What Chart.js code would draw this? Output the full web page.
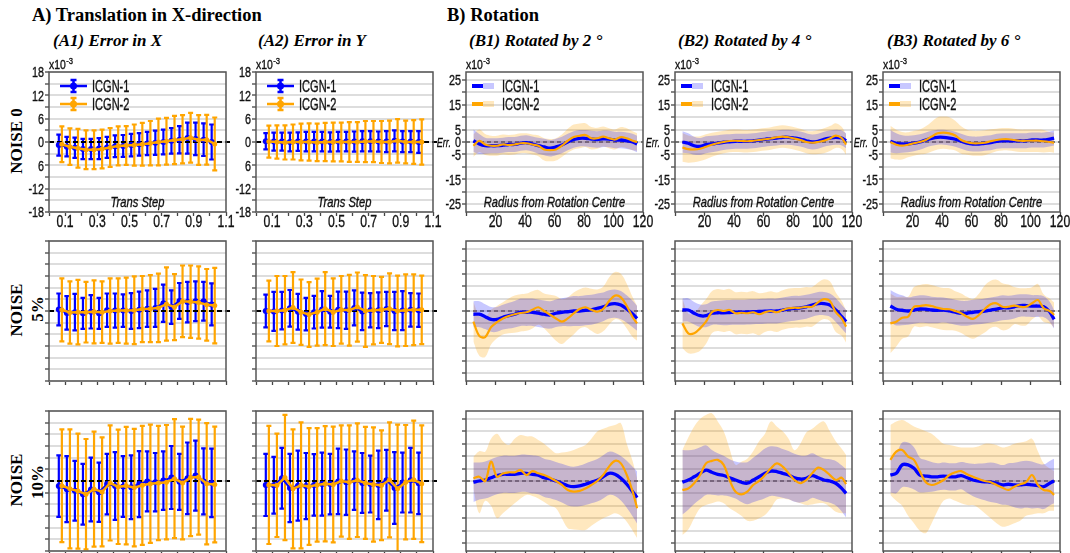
<!DOCTYPE html>
<html>
<head>
<meta charset="utf-8">
<script src="https://cdn.jsdelivr.net/npm/chart.js@4.4.1/dist/chart.umd.min.js"></script>
<style>
  html, body { margin: 0; padding: 0; background: #fff; overflow: hidden; }
  #page { position: relative; width: 1070px; height: 553px; }
  #page canvas { position: absolute; }
  #page svg { position: absolute; left: 0; top: 0; }
  .ttl { font-family: 'Liberation Serif', 'Times New Roman', serif; font-weight: bold; fill: #000; }
</style>
</head>
<body>
<div id="page">
  <svg width="1070" height="553">
    <text class="ttl" x="32" y="21" font-size="18.5">A) Translation in X-direction</text>
    <text class="ttl" x="447" y="21" font-size="18.5">B) Rotation</text>
    <text class="ttl" x="53" y="46" font-size="17" font-style="italic">(A1) Error in X</text>
    <text class="ttl" x="258" y="46" font-size="17" font-style="italic">(A2) Error in Y</text>
    <text class="ttl" x="469" y="46" font-size="17" font-style="italic">(B1) Rotated by 2 °</text>
    <text class="ttl" x="678" y="46" font-size="17" font-style="italic">(B2) Rotated by 4 °</text>
    <text class="ttl" x="887" y="46" font-size="17" font-style="italic">(B3) Rotated by 6 °</text>
    <text class="ttl" font-size="17" text-anchor="middle" transform="translate(22,141) rotate(-90)">NOISE 0</text>
    <text class="ttl" font-size="17" text-anchor="middle" transform="translate(22,310) rotate(-90)">NOISE</text>
    <text class="ttl" font-size="17" text-anchor="middle" transform="translate(43,309) rotate(-90)">5%</text>
    <text class="ttl" font-size="17" text-anchor="middle" transform="translate(22,480) rotate(-90)">NOISE</text>
    <text class="ttl" font-size="17" text-anchor="middle" transform="translate(43,482) rotate(-90)">10%</text>
  </svg>
</div>
<script>
// ---- data ----
const seriesNames = ['ICGN-1', 'ICGN-2'];

// translation panels
const transStep = [0.05,0.10,0.15,0.20,0.25,0.30,0.35,0.40,0.45,0.50,0.55,0.60,0.65,0.70,0.75,0.80,0.85,0.90,0.95,1.00];
const aXTicks = [0,0.1,0.2,0.3,0.4,0.5,0.6,0.7,0.8,0.9,1.0,1.1];
const aXTickLabels = ['','0.1','','0.3','','0.5','','0.7','','0.9','','1.1'];
const aYTicks = [-18,-15,-12,-9,-6,-3,0,3,6,9,12,15,18];
const aYTickLabels = ['-18','','-12','','6','','0','','6','','12','','18'];

const a1n0Mean1 = [-0.8,-1.2,-1.5,-1.8,-1.8,-1.7,-1.4,-1.1,-1.0,-0.8,-0.6,-0.4,-0.2,0.0,0.3,0.6,1.0,0.8,0.6,0.0];
const a1n0Err1  = [2.7,2.5,2.6,2.6,2.6,2.7,2.7,2.8,2.8,2.9,2.9,3.0,3.1,3.2,3.3,3.5,4.0,4.2,4.2,4.5];
const a1n0Mean2 = [-0.6,-1.2,-1.6,-2.0,-2.0,-1.8,-1.4,-1.0,-0.9,-0.8,-0.6,-0.3,0.0,0.2,0.5,0.7,1.1,0.5,0.6,-0.5];
const a1n0Err2  = [4.6,4.7,5.0,5.0,5.0,5.0,5.0,5.0,5.0,5.3,5.5,5.7,6.0,6.0,6.2,6.2,6.4,6.4,6.4,6.8];
const a2n0Mean1 = [0.2,0.1,0.1,0.0,0.1,0.1,0.1,0.1,0.0,0.1,0.1,0.1,0.2,0.2,0.1,0.1,0.3,0.1,0.1,0.0];
const a2n0Err1  = [2.1,2.3,2.3,2.4,2.4,2.5,2.5,2.5,2.5,2.5,2.5,2.6,2.6,2.6,2.6,2.7,2.7,2.7,2.7,2.8];
const a2n0Mean2 = [0.1,0.0,-0.1,0.0,0.0,0.0,-0.1,0.0,0.0,0.0,0.0,0.0,0.1,0.1,0.0,0.0,0.3,0.0,0.0,0.0];
const a2n0Err2  = [4.1,4.3,4.4,4.5,4.7,4.8,4.8,4.9,5.0,5.0,5.1,5.1,5.3,5.3,5.4,5.5,5.6,5.5,5.6,5.8];

const a1n5Mean1 = [0.4,-0.5,-0.3,-0.6,-0.2,-0.6,0.2,0.1,0.1,0.0,0.3,0.6,0.8,2.0,1.0,2.6,2.3,2.5,2.5,1.7];
const a1n5Err1  = [4.1,4.3,4.7,4.0,4.3,4.0,4.3,4.4,4.2,4.6,4.7,4.7,4.9,4.8,4.3,4.6,5.2,5.1,5.0,5.4];
const a1n5Mean2 = [0.3,-0.4,-0.3,-0.3,-0.2,-0.3,0.0,0.1,0.1,0.2,0.5,0.6,0.8,1.8,1.0,2.5,2.4,2.2,1.6,1.4];
const a1n5Err2  = [8.1,8.0,8.3,7.8,8.1,7.9,8.4,8.3,8.5,8.7,8.5,8.6,8.8,9.4,8.5,9.2,9.3,9.3,9.2,9.7];
const a2n5Mean1 = [0.0,-0.1,0.1,0.7,-0.2,-0.8,-0.3,0.4,-0.2,0.3,0.2,0.8,-0.1,0.2,0.2,0.5,0.0,0.1,0.3,0.2];
const a2n5Err1  = [4.2,5.0,4.8,4.7,4.6,4.2,4.2,4.7,4.1,4.7,4.8,4.5,4.8,4.4,4.6,4.4,4.9,5.0,4.3,4.3];
const a2n5Mean2 = [0.0,0.0,0.2,0.9,-0.3,-0.9,-0.3,0.6,-0.3,0.3,0.2,1.0,0.0,0.2,0.3,0.6,0.0,0.2,0.3,0.3];
const a2n5Err2  = [7.8,9.0,8.8,9.1,8.4,8.3,8.6,9.4,8.7,8.7,9.1,8.9,9.2,8.8,8.5,9.1,9.1,9.2,9.1,8.8];

const a1n10Mean1 = [-1.3,-2.1,-2.5,-3.4,-2.2,-2.9,-0.8,-1.3,-1.4,-1.6,-0.8,-0.1,-0.3,0.1,0.9,-0.2,0.7,1.4,-0.1,-0.5];
const a1n10Err1  = [7.9,8.5,7.7,7.8,8.2,7.6,7.8,8.7,7.8,8.2,8.5,7.7,7.5,7.5,8.1,7.2,9.2,9.0,8.5,8.8];
const a1n10Mean2 = [-1.2,-2.0,-2.6,-3.4,-2.1,-2.8,-0.5,-1.5,-1.2,-1.7,-1.1,-0.7,-0.5,-0.3,0.6,-0.5,0.9,1.0,-0.7,-0.9];
const a1n10Err2  = [14.5,15.3,14.8,14.2,14.8,14.0,14.8,14.7,15.1,15.1,15.3,15.2,14.7,14.7,15.3,14.5,15.1,14.8,15.6,14.9];
const a2n10Mean1 = [-1.0,-1.1,0.7,-1.8,-1.2,-1.3,-1.0,-0.8,-0.8,-0.1,-0.3,0.1,-0.5,-0.8,-1.0,0.2,-1.8,-0.4,0.2,-0.6];
const a2n10Err1  = [8.0,7.3,7.8,8.8,9.0,8.5,7.9,8.1,7.8,8.4,8.4,7.5,7.7,7.3,8.8,7.8,9.2,7.7,8.3,7.9];
const a2n10Mean2 = [-1.0,-1.1,0.9,-2.0,-1.1,-1.4,-1.0,-0.7,-0.9,0.0,-0.3,0.2,-0.5,-0.9,-1.1,0.3,-2.0,-0.3,0.3,-0.7];
const a2n10Err2  = [15.2,13.3,16.1,15.3,16.2,15.0,14.6,14.8,14.9,14.3,14.6,14.6,14.4,14.7,14.1,14.8,16.5,14.7,15.2,15.0];

// rotation panels
const radius = [5,9,13,17,21,25,29,33,37,41,45,49,53,57,61,65,69,73,77,81,85,89,93,97,101,105,109,113,116];
const bXTicks = [0,20,40,60,80,100,120];
const bXTickLabels = ['','20','40','60','80','100','120'];
const bYTicks = [-25,-20,-15,-10,-5,0,5,10,15,20,25];
const bYTickLabels = ['-25','','-15','','-5','0','5','','15','','25'];

const b1n0Mean1 = [0.5,-0.8,-1.5,-1.5,-1.5,-1.3,-1.0,-1.0,-0.5,-0.3,-0.8,-1.5,-2.0,-2.5,-2.0,-1.2,0.0,1.0,1.5,1.5,1.2,1.0,1.3,1.2,0.8,0.8,0.5,0.0,-0.8];
const b1n0Sd1   = [4.5,4.0,3.2,3.0,3.0,3.0,3.0,3.0,3.0,3.0,3.0,3.2,3.3,3.3,3.3,3.3,3.3,3.3,3.3,3.3,3.3,3.3,3.3,3.3,3.3,3.3,3.3,3.3,3.3];
const b1n0Mean2 = [-1.5,0.5,-1.0,-1.5,-1.5,-1.0,-1.2,-1.0,-0.5,-0.5,-1.0,-1.5,-3.0,-3.3,-3.0,-1.5,0.5,2.0,2.5,2.8,1.5,1.5,2.2,1.5,1.0,2.0,1.5,0.5,0.0];
const b1n0Sd2   = [4.5,4.5,4.2,4.0,4.0,4.0,4.0,4.0,4.0,4.0,4.0,4.2,4.5,4.5,4.5,4.5,4.8,5.0,5.0,4.8,4.5,4.2,4.0,4.0,4.0,4.0,4.0,3.8,3.5];
const b2n0Mean1 = [0.0,-0.5,-1.5,-1.8,-1.1,-0.8,-0.5,-0.1,0.1,0.3,0.3,0.3,0.5,0.8,1.1,1.4,1.6,1.9,1.9,1.6,1.2,0.5,0.0,0.3,1.1,1.6,1.9,1.6,0.5];
const b2n0Sd1   = [4.3,4.0,3.6,3.4,3.4,3.3,3.2,3.1,3.0,3.0,3.0,3.0,3.0,3.0,3.0,3.0,3.0,3.0,3.0,3.0,3.0,3.0,3.0,3.0,3.0,3.0,3.0,3.0,3.0];
const b2n0Mean2 = [-2.2,-2.9,-3.0,-2.7,-1.9,-1.1,-0.5,0.0,0.4,0.5,0.4,0.3,0.5,0.8,1.1,1.4,1.9,2.2,1.9,1.4,0.8,0.0,-0.3,0.0,0.5,1.4,2.6,1.6,-1.1];
const b2n0Sd2   = [5.8,5.5,5.2,5.0,5.0,4.8,4.6,4.5,4.5,4.5,4.5,4.5,4.5,4.5,4.5,4.5,4.5,4.5,4.5,4.5,4.5,4.5,4.6,4.8,5.0,5.0,5.0,4.5,4.0];
const b3n0Mean1 = [0.3,-0.5,-0.8,-0.8,-0.5,0.0,0.8,1.5,1.9,1.9,1.6,1.1,0.3,-0.5,-0.8,-0.8,-0.5,-0.3,0.3,0.5,0.5,0.5,0.5,0.5,0.8,0.8,0.8,1.2,1.6];
const b3n0Sd1   = [4.5,4.0,3.5,3.3,3.2,3.1,3.0,3.0,3.0,3.0,3.0,3.0,3.0,3.0,3.0,3.0,3.0,3.0,3.0,3.0,3.0,3.0,3.0,3.0,3.0,3.0,3.0,3.0,3.0];
const b3n0Mean2 = [0.0,-1.1,-1.5,-1.1,-0.5,0.0,0.8,2.2,3.5,3.8,3.5,2.6,0.8,-0.1,-0.5,-0.5,-0.3,0.3,0.8,1.1,1.1,0.8,0.5,0.5,0.5,0.5,0.3,0.0,-0.3];
const b3n0Sd2   = [6.5,6.0,5.5,5.0,5.0,5.0,5.5,6.0,6.5,6.5,6.5,6.0,5.5,5.0,5.0,5.0,5.0,4.8,4.5,4.5,4.5,4.5,4.5,4.5,4.5,4.5,4.5,4.0,4.0];

const b1n5Mean1 = [-1.3,-1.3,-2.3,-3.4,-3.4,-2.5,-1.9,-1.3,-0.5,-0.5,-0.5,-0.9,-1.3,-1.6,-0.9,-0.5,-0.3,0.0,0.0,0.3,0.5,1.1,1.7,2.7,3.0,2.4,0.8,-1.2,-3.0];
const b1n5Sd1   = [5.2,5.2,5.0,5.0,5.0,5.0,5.2,5.3,5.5,5.5,5.5,5.5,5.5,5.5,5.5,5.6,5.8,6.0,6.0,6.0,6.0,6.0,5.8,5.7,5.7,5.7,5.5,5.3,5.0];
const b1n5Mean2 = [-4.3,-10.0,-10.5,-6.5,-4.5,-3.0,-2.0,-1.3,-0.8,-0.5,0.5,1.5,0.0,-1.5,-3.0,-4.3,-3.0,-1.0,0.8,1.5,0.5,-0.3,0.8,4.0,6.2,5.5,2.0,-2.5,-5.0];
const b1n5Sd2   = [8.0,8.0,8.0,7.0,6.5,6.5,7.0,7.5,7.5,7.5,7.5,7.0,7.0,8.0,9.0,9.0,8.5,8.5,8.0,8.0,8.5,9.0,9.0,9.5,9.5,9.5,9.0,8.0,7.0];
const b2n5Mean1 = [0.4,0.4,-0.9,-1.9,-1.9,-0.9,-0.7,-0.7,-0.6,-0.5,-0.5,-0.4,-0.3,-0.2,-0.1,0.0,0.0,0.4,0.8,1.1,1.3,1.7,2.4,3.0,3.0,2.4,0.4,-2.3,-4.3];
const b2n5Sd1   = [4.7,4.7,4.5,4.5,4.6,4.7,4.8,5.0,5.0,5.0,5.0,5.0,5.0,5.0,5.0,5.0,5.0,5.0,5.0,5.0,4.8,4.8,4.7,4.7,4.7,4.7,4.8,4.8,4.8];
const b2n5Mean2 = [-5.0,-9.0,-9.0,-7.0,-4.3,-0.5,0.4,0.0,0.4,-0.9,-0.7,-0.9,-0.5,-1.3,-0.5,0.0,-0.5,0.4,1.1,1.3,1.3,1.7,1.7,3.5,4.8,4.0,-0.5,-3.0,-6.3];
const b2n5Sd2   = [10.0,8.0,8.0,9.0,9.0,8.5,8.5,8.5,8.5,8.5,8.5,8.5,8.5,8.5,8.0,8.0,8.0,8.0,8.0,8.0,8.0,8.0,8.0,8.0,8.0,8.0,8.0,7.0,6.5];
const b3n5Mean1 = [2.0,0.7,0.3,0.0,0.4,0.8,0.7,0.4,0.3,0.4,0.0,-0.5,-0.9,-0.9,-0.5,-0.3,0.0,0.4,0.8,1.3,1.3,1.7,2.2,2.2,2.0,2.0,1.7,-0.3,-3.4];
const b3n5Sd1   = [6.5,6.5,6.0,5.5,5.5,5.5,5.5,5.3,5.2,5.0,5.0,5.0,5.0,5.0,5.0,5.0,5.0,5.0,5.0,5.0,4.8,4.7,4.5,4.5,4.4,4.4,4.2,4.0,3.7];
const b3n5Mean2 = [-5.0,-4.3,-2.7,-2.3,1.7,2.0,2.4,2.0,1.3,0.8,0.7,0.0,-0.9,-2.3,-3.2,-1.6,0.8,2.7,3.1,1.7,1.7,2.2,1.7,1.7,3.1,4.4,1.1,0.0,-1.6];
const b3n5Sd2   = [12.0,10.0,8.5,8.0,8.0,8.5,8.5,8.5,8.5,8.5,8.5,8.0,8.0,8.0,8.0,8.5,9.5,9.5,9.5,9.5,9.0,7.5,7.5,7.5,6.5,6.5,5.5,5.0,5.0];

const b1n10Mean1 = [-0.5,0.0,0.4,1.3,2.2,2.7,2.7,2.7,3.1,3.1,2.7,2.4,1.3,0.8,0.0,-0.9,-1.9,-2.3,-2.0,-1.3,-0.5,0.3,1.7,3.1,2.7,1.1,-1.3,-4.3,-6.7];
const b1n10Sd1   = [8.0,7.5,7.5,7.5,7.5,7.5,7.5,7.5,7.5,7.5,7.7,7.7,7.7,7.7,7.7,7.8,8.0,8.0,8.2,8.4,8.5,8.6,8.7,8.7,8.7,9.0,9.5,10.0,10.5];
const b1n10Mean2 = [1.1,1.7,0.0,7.8,1.7,3.0,3.5,3.5,4.4,2.4,4.0,3.1,2.4,1.3,0.0,-1.6,-3.6,-4.3,-4.0,-3.0,-1.6,0.0,2.4,5.8,8.1,7.1,2.4,-4.3,-11.0];
const b1n10Lo2   = [-3,-13,-8,-10,-15,-13,-11,-9,-7,-5.6,-6,-7,-8.5,-10,-11,-15,-19,-19.5,-19.7,-19.7,-18,-16.4,-15,-14,-13,-14,-16.4,-20,-23];
const b1n10Hi2   = [9.8,12,11.8,17,19,16,14.5,17,18.5,18,17.9,16.5,15,13,11.2,11.5,11.8,12.5,13.5,14.5,17,19.9,21,22,22.6,23.3,15,8,1];
const b2n10Mean1 = [-0.5,0.4,1.7,3.1,4.4,3.5,2.7,2.2,1.3,0.4,-0.5,-0.9,0.4,1.7,3.1,4.0,3.8,3.1,2.4,1.3,0.8,1.1,2.2,1.3,0.4,0.0,-0.9,-3.0,-5.0];
const b2n10Sd1   = [13.0,12.0,11.0,10.5,10.0,9.0,8.5,8.0,7.5,7.5,8.0,8.5,9.0,9.5,10.0,10.0,10.0,9.8,9.7,9.7,9.5,9.2,9.0,8.8,8.7,8.8,9.0,9.3,9.7];
const b2n10Mean2 = [-3.6,-3.0,-0.9,2.4,7.1,8.1,8.5,6.5,0.4,-4.3,-5.4,-4.3,-1.6,0.0,2.4,5.1,7.1,5.8,3.1,0.4,-0.9,0.4,3.1,5.4,4.4,2.4,0.4,1.3,-1.3];
const b2n10Lo2   = [-21.8,-19.5,-15,-11,-9.7,-9,-8.3,-9,-11,-12.4,-14,-16,-16,-15,-13.7,-11,-7.5,-7,-7.5,-8.3,-9,-9.7,-9.5,-9,-9,-10.5,-12.4,-13,-13];
const b2n10Hi2   = [12.5,17.5,22,25,26.6,27.3,24,20,13,6.5,7.8,9,12,16,19,24,22,20,17,12.4,15,19.5,21,23,24,20,16,13,10.5];
const b3n10Mean1 = [2.4,3.1,6.5,6.5,5.1,2.4,2.0,1.7,1.7,2.0,1.7,1.7,2.2,1.3,0.4,0.0,-0.3,-0.5,-0.9,-1.6,-1.3,-1.6,-1.6,-1.3,-1.6,-1.9,-2.3,-0.9,0.0];
const b3n10Sd1   = [7.0,8.0,9.0,9.0,8.5,7.0,6.5,6.0,5.5,5.5,5.5,5.5,5.5,6.0,6.5,7.0,7.5,8.0,8.0,8.0,8.5,9.0,9.5,9.5,9.5,9.0,9.0,9.0,9.0];
const b3n10Mean2 = [8.5,11.8,12.5,9.8,8.5,3.8,-0.5,-1.6,-0.9,0.4,2.4,3.5,4.0,2.7,1.7,0.8,0.0,-0.5,-1.6,-2.7,-3.6,-2.3,-1.3,-0.5,2.4,-1.6,-3.6,-4.0,-5.6];
const b3n10Lo2   = [-5.6,-8,-10,-14,-17,-20,-21,-17,-12,-8,-7,-8,-9,-9.7,-9.7,-11,-13,-15,-17,-18.4,-18,-17,-16,-14,-13.5,-13,-13,-12,-12];
const b3n10Hi2   = [22.6,24,24.6,23.5,22,21,20,19,17,15,14.5,14,13.5,13.5,13.5,14,15,15,14.5,13.5,14,15,15.5,16,17,12,7,5,4];

// ---- layout & style ----
const BLUE = '#0000ff', ORANGE = '#ffa500';
const BLUE_BAND = 'rgba(0,0,255,0.22)', ORANGE_BAND = 'rgba(255,165,0,0.25)';
const SANS = "'Liberation Sans', Arial, sans-serif";
const BOX_W = 177, BOX_H = 140, PAD_L = 44, PAD_T = 22, PAD_R = 14, PAD_B = 28;
const colLeft = [49, 256, 466, 675, 883];
const rowTop = [72, 241, 411];

const panels = [
  {kind:'A', col:0, row:0, s1:{mean:a1n0Mean1, err:a1n0Err1}, s2:{mean:a1n0Mean2, err:a1n0Err2}},
  {kind:'A', col:1, row:0, s1:{mean:a2n0Mean1, err:a2n0Err1}, s2:{mean:a2n0Mean2, err:a2n0Err2}},
  {kind:'B', col:2, row:0, s1:{mean:b1n0Mean1, sd:b1n0Sd1}, s2:{mean:b1n0Mean2, sd:b1n0Sd2}},
  {kind:'B', col:3, row:0, s1:{mean:b2n0Mean1, sd:b2n0Sd1}, s2:{mean:b2n0Mean2, sd:b2n0Sd2}},
  {kind:'B', col:4, row:0, s1:{mean:b3n0Mean1, sd:b3n0Sd1}, s2:{mean:b3n0Mean2, sd:b3n0Sd2}},
  {kind:'A', col:0, row:1, s1:{mean:a1n5Mean1, err:a1n5Err1}, s2:{mean:a1n5Mean2, err:a1n5Err2}},
  {kind:'A', col:1, row:1, s1:{mean:a2n5Mean1, err:a2n5Err1}, s2:{mean:a2n5Mean2, err:a2n5Err2}},
  {kind:'B', col:2, row:1, s1:{mean:b1n5Mean1, sd:b1n5Sd1}, s2:{mean:b1n5Mean2, sd:b1n5Sd2}},
  {kind:'B', col:3, row:1, s1:{mean:b2n5Mean1, sd:b2n5Sd1}, s2:{mean:b2n5Mean2, sd:b2n5Sd2}},
  {kind:'B', col:4, row:1, s1:{mean:b3n5Mean1, sd:b3n5Sd1}, s2:{mean:b3n5Mean2, sd:b3n5Sd2}},
  {kind:'A', col:0, row:2, s1:{mean:a1n10Mean1, err:a1n10Err1}, s2:{mean:a1n10Mean2, err:a1n10Err2}},
  {kind:'A', col:1, row:2, s1:{mean:a2n10Mean1, err:a2n10Err1}, s2:{mean:a2n10Mean2, err:a2n10Err2}},
  {kind:'B', col:2, row:2, s1:{mean:b1n10Mean1, sd:b1n10Sd1}, s2:{mean:b1n10Mean2, lo:b1n10Lo2, hi:b1n10Hi2}},
  {kind:'B', col:3, row:2, s1:{mean:b2n10Mean1, sd:b2n10Sd1}, s2:{mean:b2n10Mean2, lo:b2n10Lo2, hi:b2n10Hi2}},
  {kind:'B', col:4, row:2, s1:{mean:b3n10Mean1, sd:b3n10Sd1}, s2:{mean:b3n10Mean2, lo:b3n10Lo2, hi:b3n10Hi2}},
];

function bandBounds(s) {
  return {
    lo: s.lo || s.mean.map((m, i) => m - s.sd[i]),
    hi: s.hi || s.mean.map((m, i) => m + s.sd[i])
  };
}

function aDatasets(p) {
  const mk = (s, color, off, lw, pr, order) => ({
    data: s.mean.map((m, i) => ({x: transStep[i] + off, y: m})),
    err: s.err,
    borderColor: color, backgroundColor: color, borderWidth: lw,
    pointRadius: pr, pointBorderWidth: 0, pointHoverRadius: 0, tension: 0, order: order
  });
  return [mk(p.s1, BLUE, 0.011, 2, 3, 1), mk(p.s2, ORANGE, 0.03, 2.5, 2.5, 0)];
}

function bDatasets(p) {
  const b1 = bandBounds(p.s1), b2 = bandBounds(p.s2);
  const pts = arr => arr.map((v, i) => ({x: radius[i], y: v}));
  const band = (arr, fill, color, order) => ({
    data: pts(arr), borderWidth: 0, borderColor: 'rgba(0,0,0,0)', pointRadius: 0,
    fill: fill, backgroundColor: color, tension: 0.35, order: order
  });
  return [
    band(b2.lo, false, ORANGE_BAND, 3), band(b2.hi, '-1', ORANGE_BAND, 3),
    band(b1.lo, false, BLUE_BAND, 2), band(b1.hi, '-1', BLUE_BAND, 2),
    {data: pts(p.s1.mean), borderColor: BLUE, borderWidth: 3.3, pointRadius: 0, tension: 0.35, fill: false, order: 1},
    {data: pts(p.s2.mean), borderColor: ORANGE, borderWidth: 2.2, pointRadius: 0, tension: 0.35, fill: false, order: 0}
  ];
}

// the tick labels are drawn by the deco plugin (condensed), chart.js only draws the tick marks
function xScale(p) {
  const vals = p.kind === 'A' ? aXTicks : bXTicks;
  return {
    type: 'linear', min: vals[0], max: vals[vals.length - 1],
    afterBuildTicks: s => { s.ticks = vals.map(v => ({value: v})); },
    afterFit: s => { s.height = PAD_B; },
    border: {display: false},
    grid: {drawOnChartArea: false, drawTicks: true, tickLength: 4, tickColor: '#444', tickWidth: 1.3},
    ticks: {display: false}
  };
}

function yScale(p) {
  const vals = p.kind === 'A' ? aYTicks : bYTicks;
  const lim = p.kind === 'A' ? 18 : 28.2;
  return {
    type: 'linear', min: -lim, max: lim,
    afterBuildTicks: s => { s.ticks = vals.map(v => ({value: v})); },
    afterFit: s => { s.width = PAD_L; },
    border: {display: false},
    grid: {color: '#dddddd', lineWidth: 2, drawTicks: true, tickLength: 4, tickColor: '#444', tickWidth: 1.3},
    ticks: {display: false}
  };
}

// squeezed text: the reference uses a condensed face that is not installed
function sqText(ctx, text, x, y, size, sx, align, italic) {
  ctx.save();
  ctx.translate(x, y);
  ctx.scale(sx, 1);
  ctx.font = (italic ? 'italic ' : '') + size + 'px ' + SANS;
  ctx.textAlign = align;
  ctx.textBaseline = 'alphabetic';
  ctx.fillStyle = '#111';
  ctx.strokeStyle = '#111';
  ctx.lineWidth = 0.35;
  ctx.fillText(text, 0, 0);
  ctx.strokeText(text, 0, 0);
  ctx.restore();
}

function drawErrorBars(chart) {
  const {ctx, chartArea: a, scales: {x, y}} = chart;
  ctx.save();
  ctx.beginPath();
  ctx.rect(a.left, a.top, a.right - a.left, a.bottom - a.top);
  ctx.clip();
  chart.data.datasets.forEach(ds => {
    if (!ds.err) return;
    ctx.strokeStyle = ds.borderColor;
    ctx.lineWidth = 2.2;
    ds.data.forEach((pt, i) => {
      const px = x.getPixelForValue(pt.x);
      const y1 = y.getPixelForValue(pt.y + ds.err[i]);
      const y2 = y.getPixelForValue(pt.y - ds.err[i]);
      ctx.beginPath();
      ctx.moveTo(px, y1); ctx.lineTo(px, y2);
      ctx.moveTo(px - 2.5, y1); ctx.lineTo(px + 2.5, y1);
      ctx.moveTo(px - 2.5, y2); ctx.lineTo(px + 2.5, y2);
      ctx.stroke();
    });
  });
  ctx.restore();
}

function decoPlugin(p) {
  const isA = p.kind === 'A';
  return {
    id: 'deco',
    beforeDatasetsDraw(chart) {
      const {ctx, chartArea: a, scales: {y}} = chart;
      if (isA) drawErrorBars(chart);
      const y0 = y.getPixelForValue(0);
      ctx.save();
      if (isA) {
        ctx.setLineDash([5, 3]); ctx.strokeStyle = '#000'; ctx.lineWidth = 2;
      } else {
        ctx.setLineDash([4, 3]); ctx.strokeStyle = '#555'; ctx.lineWidth = 1.6;
      }
      ctx.beginPath();
      ctx.moveTo(a.left, y0);
      ctx.lineTo(a.right + (isA ? 4 : 0), y0);
      ctx.stroke();
      ctx.restore();
    },
    afterDraw(chart) {
      const {ctx, chartArea: a, scales: {x, y}} = chart;
      ctx.save();
      ctx.strokeStyle = '#555'; ctx.lineWidth = 1.5;
      ctx.strokeRect(a.left, a.top, a.right - a.left, a.bottom - a.top);
      ctx.restore();
      if (p.row !== 0) return;

      // tick labels
      const xv = isA ? aXTicks : bXTicks, xl = isA ? aXTickLabels : bXTickLabels;
      xv.forEach((v, i) => { if (xl[i]) sqText(ctx, xl[i], x.getPixelForValue(v), a.bottom + 15, 17, 0.72, 'center'); });
      const yv = isA ? aYTicks : bYTicks, yl = isA ? aYTickLabels : bYTickLabels;
      yv.forEach((v, i) => { if (yl[i]) sqText(ctx, yl[i], a.left - 5, y.getPixelForValue(v) + 5.4, 15, 0.72, 'right'); });
      if (!isA) sqText(ctx, 'Err.', a.left - 15, y.getPixelForValue(0) + 4.6, 13, 0.7, 'right', true);

      // legend
      const entries = [[seriesNames[0], BLUE, BLUE_BAND, 14], [seriesNames[1], ORANGE, ORANGE_BAND, 32]];
      entries.forEach(([name, c, band, dy]) => {
        const yy = a.top + dy;
        ctx.save();
        if (isA) {
          const x0 = a.left + 11, x1 = a.left + 38, xm = (x0 + x1) / 2;
          ctx.strokeStyle = c; ctx.fillStyle = c; ctx.lineWidth = 2.5;
          ctx.beginPath();
          ctx.moveTo(x0, yy); ctx.lineTo(x1, yy);
          ctx.moveTo(xm, yy - 6); ctx.lineTo(xm, yy + 6);
          ctx.moveTo(xm - 3, yy - 6); ctx.lineTo(xm + 3, yy - 6);
          ctx.moveTo(xm - 3, yy + 6); ctx.lineTo(xm + 3, yy + 6);
          ctx.stroke();
          ctx.beginPath(); ctx.arc(xm, yy, 3.5, 0, Math.PI * 2); ctx.fill();
        } else {
          ctx.fillStyle = band; ctx.fillRect(a.left + 17, yy - 3, 11, 6);
          ctx.fillStyle = c; ctx.fillRect(a.left + 6, yy - 2, 11, 4);
        }
        ctx.restore();
        sqText(ctx, name, a.left + (isA ? 43 : 36), yy + 5.8, 16, 0.69, 'left');
      });

      // exponent label
      sqText(ctx, 'x10', a.left, a.top - 3, 13, 0.8, 'left');
      ctx.save();
      ctx.font = '13px ' + SANS;
      const w = ctx.measureText('x10').width * 0.8;
      ctx.restore();
      sqText(ctx, '-3', a.left + w + 0.5, a.top - 8, 9, 0.85, 'left');

      // inner axis title
      sqText(ctx, isA ? 'Trans Step' : 'Radius from Rotation Centre',
             (a.left + a.right) / 2, a.bottom - 5, 14.5, 0.77, 'center', true);
    }
  };
}

const page = document.getElementById('page');
panels.forEach(p => {
  const cv = document.createElement('canvas');
  cv.width = PAD_L + BOX_W + PAD_R;
  cv.height = PAD_T + BOX_H + PAD_B;
  cv.style.left = (colLeft[p.col] - PAD_L) + 'px';
  cv.style.top = (rowTop[p.row] - PAD_T) + 'px';
  page.appendChild(cv);
  new Chart(cv, {
    type: 'line',
    data: {datasets: p.kind === 'A' ? aDatasets(p) : bDatasets(p)},
    options: {
      responsive: false, animation: false, devicePixelRatio: 1,
      layout: {padding: {top: PAD_T, right: PAD_R, left: 0, bottom: 0}},
      plugins: {legend: {display: false}, tooltip: {enabled: false}},
      events: [],
      scales: {x: xScale(p), y: yScale(p)}
    },
    plugins: [decoPlugin(p)]
  });
});
</script>
</body>
</html>
